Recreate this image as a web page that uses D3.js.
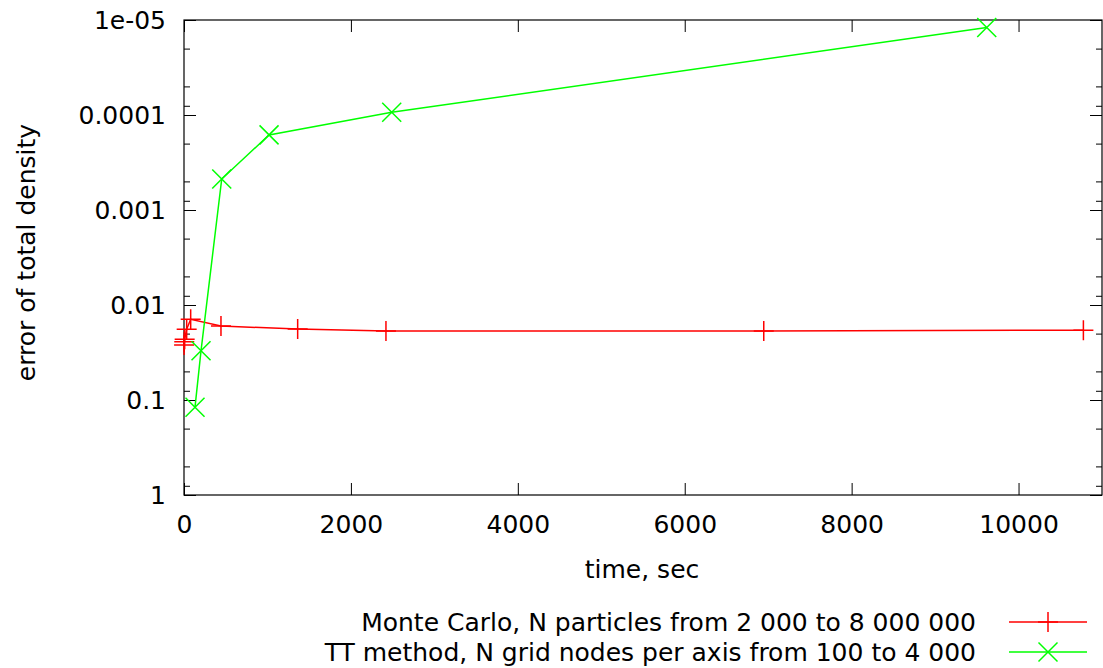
<!DOCTYPE html>
<html>
<head>
<meta charset="utf-8">
<script src="https://cdn.jsdelivr.net/npm/d3@7"></script>
<style>
  body { margin: 0; background: #fff; }
  text { font-family: "DejaVu Sans", sans-serif; fill: #000; }
</style>
</head>
<body>
<div id="chart"></div>
<script>
(function() {

  // Monte Carlo runs: time (sec) and error
  const mcTime  = [1, 3, 8, 32, 80, 443, 1362, 2420, 6947, 10777];
  const mcError = [0.0264, 0.0243, 0.0230, 0.0180, 0.01415, 0.01664, 0.0179, 0.0188, 0.0188, 0.0184];

  // TT method runs: time (sec) and error
  const ttTime  = [132, 204, 452, 1019, 2489, 9619];
  const ttError = [0.119, 0.0303, 4.72e-4, 1.62e-4, 9.37e-5, 1.2e-5];

  // ticks
  const xTicks = [0, 2000, 4000, 6000, 8000, 10000];
  const yTicks = [1, 0.1, 0.01, 0.001, 0.0001, 0.00001];
  const yTickLabels = ["1", "0.1", "0.01", "0.001", "0.0001", "1e-05"];
  const yMinorMult = [2, 5, 8];

  const seriesNames = [
    "Monte Carlo, N particles from 2 000 to 8 000 000",
    "TT method, N grid nodes per axis from 100 to 4 000"
  ];
  const seriesColors = ["#ff0000", "#00ff00"];

  // set the dimensions and margins of the graph
  let margin = {top: 20, right: 1, bottom: 173, left: 184},
      width = 1103 - margin.left - margin.right,
      height = 668 - margin.top - margin.bottom;

  let svg = d3.select("#chart")
    .append("svg")
      .attr("width", 1103)
      .attr("height", 668)
    .append("g")
      .attr("transform", "translate(" + margin.left + "," + margin.top + ")");

  let x = d3.scaleLinear()
      .domain([0, 11000])
      .range([0, width]);

  // log axis, 1 at the bottom
  let y = d3.scaleLog()
      .domain([1, 1e-5])
      .range([height, 0]);

  let yMinor = [];
  yTicks.slice(0, -1).forEach(function(t) {
    yMinorMult.forEach(function(m) { yMinor.push(t * m / 10); });
  });

  function styleAxis(g) {
    g.select(".domain").remove();
    g.selectAll(".tick line").attr("stroke", "#000").attr("stroke-width", 1);
    g.selectAll(".tick text").style("font-size", "25px").attr("font-family", "DejaVu Sans");
  }

  // bottom / top axes
  svg.append("g")
      .attr("transform", "translate(0," + height + ")")
      .call(d3.axisBottom(x).tickValues(xTicks).tickSizeInner(-12).tickSizeOuter(0).tickPadding(20).tickFormat(d3.format("d")))
      .call(styleAxis);
  svg.append("g")
      .call(d3.axisTop(x).tickValues(xTicks).tickSizeInner(-12).tickSizeOuter(0).tickFormat(""))
      .call(styleAxis);

  // left / right axes
  svg.append("g")
      .call(d3.axisLeft(y).tickValues(yTicks).tickSizeInner(-12).tickSizeOuter(0).tickPadding(18)
        .tickFormat(function(d, i) { return yTickLabels[i]; }))
      .call(styleAxis);
  svg.append("g")
      .call(d3.axisLeft(y).tickValues(yMinor).tickSizeInner(-6).tickSizeOuter(0).tickFormat(""))
      .call(styleAxis);
  svg.append("g")
      .attr("transform", "translate(" + width + ",0)")
      .call(d3.axisRight(y).tickValues(yTicks).tickSizeInner(-12).tickSizeOuter(0).tickFormat(""))
      .call(styleAxis);
  svg.append("g")
      .attr("transform", "translate(" + width + ",0)")
      .call(d3.axisRight(y).tickValues(yMinor).tickSizeInner(-6).tickSizeOuter(0).tickFormat(""))
      .call(styleAxis);

  // border
  svg.append("rect")
      .attr("x", 0).attr("y", 0)
      .attr("width", width).attr("height", height)
      .attr("fill", "none")
      .attr("stroke", "#000")
      .attr("stroke-width", 1.2);

  // axis titles
  svg.append("text")
      .attr("x", 458)
      .attr("y", 558)
      .attr("text-anchor", "middle")
      .style("font-size", "25px")
      .text("time, sec");
  svg.append("text")
      .attr("transform", "translate(" + (-158) + "," + (height / 2 - 5) + ") rotate(-90)")
      .attr("text-anchor", "middle")
      .attr("dy", "0.35em")
      .style("font-size", "25px")
      .text("error of total density");

  const plusPath = "M-10,0H10M0,-10V10";
  const crossPath = "M-9.5,-9.5L9.5,9.5M-9.5,9.5L9.5,-9.5";
  const markers = [plusPath, crossPath];

  let series = [
    mcTime.map(function(t, i) { return {t: t, e: mcError[i]}; }),
    ttTime.map(function(t, i) { return {t: t, e: ttError[i]}; })
  ];

  let line = d3.line()
      .x(function(d) { return x(d.t); })
      .y(function(d) { return y(d.e); });

  series.forEach(function(data, k) {
    svg.append("path")
        .datum(data)
        .attr("d", line)
        .attr("fill", "none")
        .attr("stroke", seriesColors[k])
        .attr("stroke-width", 1.5);
    svg.append("g")
      .selectAll("path")
      .data(data)
      .enter().append("path")
        .attr("transform", function(d) { return "translate(" + x(d.t) + "," + y(d.e) + ")"; })
        .attr("d", markers[k])
        .attr("fill", "none")
        .attr("stroke", seriesColors[k])
        .attr("stroke-width", 1.5);
  });

  // legend
  let legend = svg.append("g");
  seriesNames.forEach(function(name, k) {
    let ly = 602 + k * 30;
    legend.append("text")
        .attr("x", 792)
        .attr("y", ly)
        .attr("dy", "0.35em")
        .attr("text-anchor", "end")
        .style("font-size", "25px")
        .text(name);
    legend.append("line")
        .attr("x1", 825).attr("x2", 903)
        .attr("y1", ly).attr("y2", ly)
        .attr("stroke", seriesColors[k])
        .attr("stroke-width", 1.5);
    legend.append("path")
        .attr("transform", "translate(864," + ly + ")")
        .attr("d", markers[k])
        .attr("fill", "none")
        .attr("stroke", seriesColors[k])
        .attr("stroke-width", 1.5);
  });

})();
</script>
</body>
</html>
